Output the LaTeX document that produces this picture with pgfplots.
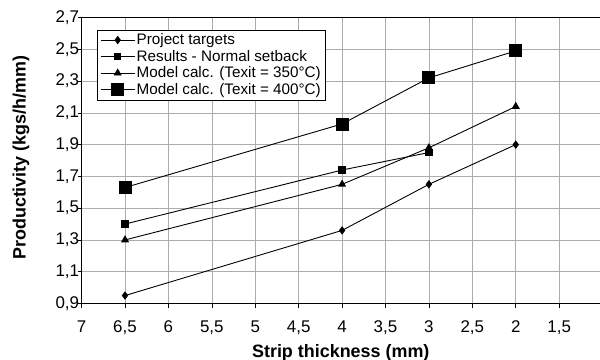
\documentclass[border=0pt]{standalone}
\usepackage{fontspec}
\setmainfont{Liberation Sans}
\usepackage{pgfplots}
\pgfplotsset{compat=1.18}
\begin{document}
\begin{tikzpicture}
\begin{axis}[
  at={(0,0)}, anchor=south west,
  scale only axis, width=518.4bp, height=286bp,
  x dir=reverse,
  xmin=1.03, xmax=7, ymin=0.9, ymax=2.7,
  xtick={7,6.5,6,5.5,5,4.5,4,3.5,3,2.5,2,1.5},
  ytick={0.9,1.1,1.3,1.5,1.7,1.9,2.1,2.3,2.5,2.7},
  /pgf/number format/assume math mode=true,
  /pgf/number format/use comma,
  xticklabel style={/pgf/number format/fixed, /pgf/number format/precision=1, yshift=-10bp},
  yticklabel style={/pgf/number format/fixed, /pgf/number format/fixed zerofill, /pgf/number format/precision=1, xshift=5bp},
  tick label style={font=\fontsize{17}{19}\selectfont},
  tick align=outside, tick pos=left,
  major tick length=4bp,
  tick style={black, line width=0.6pt},
  grid=major,
  major grid style={gray!65, line width=0.6pt},
  axis line style={black, line width=0.7pt},
  xlabel={Strip thickness (mm)},
  ylabel={Productivity (kgs/h/mm)},
  label style={font=\fontsize{18}{20}\selectfont\bfseries},
  xlabel style={at={(axis description cs:0.5,-0.172)}, anchor=center},
  ylabel style={at={(axis description cs:-0.117,0.51)}, anchor=center},
  legend cell align=left,
  legend style={at={(0.0297,0.958)}, anchor=north west, draw=black, line width=0.6pt, fill=white,
    font=\fontsize{15.3}{17}\selectfont, inner xsep=3pt, inner ysep=2pt, row sep=0bp,
    nodes={inner xsep=1.5bp}},
  legend image code/.code={\draw[mark repeat=2,mark phase=2] plot coordinates {(0bp,0bp) (17bp,0bp) (34bp,0bp)};},
  every axis plot/.append style={black, line width=0.9pt},
]
\addplot[mark=diamond*, mark size=3.5bp] coordinates {(6.5,0.95) (4,1.36) (3,1.65) (2,1.90)};
\addlegendentry{Project targets}
\addplot[mark=square*, mark size=3.2bp] coordinates {(6.5,1.40) (4,1.74) (3,1.85)};
\addlegendentry{Results - Normal setback}
\addplot[mark=triangle*, mark size=3.8bp] coordinates {(6.5,1.30) (4,1.65) (3,1.88) (2,2.14)};
\addlegendentry{Model calc. (Texit = 350°C)}
\addplot[mark=square*, mark size=6bp] coordinates {(6.5,1.63) (4,2.03) (3,2.32) (2,2.49)};
\addlegendentry{Model calc. (Texit = 400°C)}
\end{axis}
\pgfresetboundingbox
\path (-81.6bp,-56.5bp) rectangle (518.4bp,303.5bp);
\end{tikzpicture}
\end{document}
